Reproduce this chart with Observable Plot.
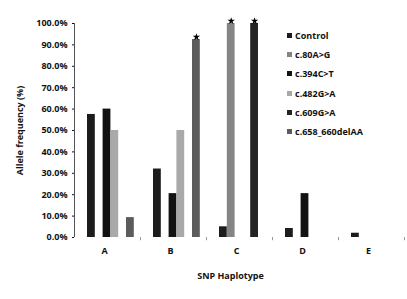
<!DOCTYPE html>
<html>
<head>
<meta charset="utf-8">
<script src="https://cdn.jsdelivr.net/npm/d3@7"></script>
<script src="https://cdn.jsdelivr.net/npm/@observablehq/plot@0.6"></script>
<style>
  html, body { margin: 0; padding: 0; background: #fff; }
  #wrap { position: relative; width: 407px; height: 299px; font-family: "Open Sans", sans-serif; }
  #legend { position: absolute; left: 287px; top: 26px; font-size: 9px; font-weight: 700; color: #111; }
  #legend .item { height: 19.2px; display: flex; align-items: center; }
  #legend .sw { width: 5px; height: 5px; margin-right: 3px; }
</style>
</head>
<body>
<div id="wrap"><div id="legend"></div></div>
<script>
const groups = ["A", "B", "C", "D", "E"];
const series = ["Control", "c.80A>G", "c.394C>T", "c.482G>A", "c.609G>A", "c.658_660delAA"];
const colors = ["#1c1c1c", "#858585", "#121212", "#a9a9a9", "#242424", "#5c5c5c"];
// values per series, in group order A..E (percent)
const vControl = [57.5, 32, 5, 4.2, 2];
const v80 = [0, 0, 100, 0, 0];
const v394 = [60, 20.5, 0, 20.5, 0];
const v482 = [50, 50, 0, 0, 0];
const v609 = [0, 0, 100, 0, 0];
const v658 = [9.3, 92.5, 0, 0, 0];
const starred = [["B", "c.658_660delAA"], ["C", "c.80A>G"], ["C", "c.609G>A"]];
const yTicks = [0, 10, 20, 30, 40, 50, 60, 70, 80, 90, 100];

const allValues = [vControl, v80, v394, v482, v609, v658];
const data = [];
series.forEach((s, j) => groups.forEach((g, i) => data.push({group: g, series: s, value: allValues[j][i],
  star: starred.some(([sg, ss]) => sg === g && ss === s)})));

const band = 66, slot = 7.8, lead = 13;
const marks = [];
series.forEach((s, j) => {
  const left = lead + slot * j;
  const rows = data.filter(d => d.series === s && d.value > 0);
  marks.push(Plot.barY(rows, {x: "group", y: "value", fill: colors[j],
    insetLeft: left, insetRight: band - left - slot}));
  marks.push(Plot.dot(rows.filter(d => d.star), {x: "group", y: "value", symbol: "star", r: 2.3,
    fill: "#000", dx: left + slot / 2 - band / 2, dy: -2.5}));
});

const chart = Plot.plot({
  width: 407, height: 299,
  marginLeft: 74, marginRight: 3, marginTop: 23, marginBottom: 62,
  style: {fontFamily: "Open Sans, sans-serif", fontWeight: 700, fontSize: "9px", color: "#111", background: "#fff"},
  x: {domain: groups, padding: 0},
  y: {domain: [0, 100]},
  marks: [
    Plot.frame({anchor: "left", stroke: "#555", strokeDasharray: "1,1"}),
    Plot.axisY({ticks: yTicks, tickFormat: d => d.toFixed(1) + "%", tickSize: 2, tickPadding: 5,
      fontSize: 9, label: "Allele frequency (%)", labelAnchor: "center", labelArrow: "none", labelOffset: 58}),
    Plot.axisX({tickSize: 0, tickPadding: 10, fontSize: 9, label: null, dx: -3}),
    Plot.ruleX(groups, {x: d => d, dx: band / 2, y1: 0, y2: -1.5, stroke: "#999"}),
    ...marks,
    Plot.text(["SNP Haplotype"], {frameAnchor: "bottom", dy: 41, dx: -9, fontSize: 9, fontWeight: 700, fill: "#111"})
  ]
});
document.getElementById("wrap").prepend(chart);

const legend = document.getElementById("legend");
series.forEach((s, j) => {
  const it = document.createElement("div");
  it.className = "item";
  const sw = document.createElement("span");
  sw.className = "sw"; sw.style.background = colors[j];
  const t = document.createElement("span"); t.textContent = s;
  it.append(sw, t); legend.append(it);
});
</script>
</body>
</html>
